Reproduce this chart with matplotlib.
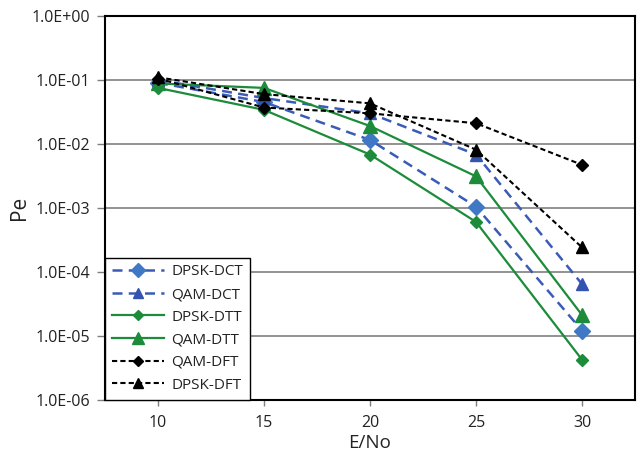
import matplotlib
matplotlib.use("Agg")
import matplotlib.pyplot as plt
from matplotlib.ticker import FixedLocator, FixedFormatter, NullLocator

# Signal-to-noise points and error probabilities per scheme
snr = [10, 15, 20, 25, 30]
dpsk_dct = [0.09, 0.045, 0.0115, 0.00104, 1.2e-5]
qam_dct = [0.1, 0.052, 0.030, 0.0068, 6.4e-5]
dpsk_dtt = [0.075, 0.034, 0.0068, 6.0e-4, 4.2e-6]
qam_dtt = [0.088, 0.075, 0.019, 0.0031, 2.1e-5]
qam_dft = [0.105, 0.037, 0.030, 0.021, 0.0047]
dpsk_dft = [0.11, 0.060, 0.043, 0.0081, 2.4e-4]

y_ticks = [1e0, 1e-1, 1e-2, 1e-3, 1e-4, 1e-5, 1e-6]
y_tick_labels = ["1.0E+00", "1.0E-01", "1.0E-02", "1.0E-03", "1.0E-04", "1.0E-05", "1.0E-06"]
x_ticks = [10, 15, 20, 25, 30]

plt.rcParams["font.family"] = ["Open Sans", "DejaVu Sans"]

fig = plt.figure(figsize=(6.39, 4.58), dpi=100)
ax = fig.add_axes([105 / 639, 1 - 399.5 / 458, 530 / 639, 383.5 / 458])

blue_line = "#3B5BB8"
blue_light = "#3F78C4"
blue_dark = "#3452B0"
green = "#1C8C3A"
black = "#000000"
text_col = "#222222"

ax.plot(snr, dpsk_dct, color=blue_line, lw=1.8, dashes=(4, 2.5),
        marker="D", ms=8.5, mfc=blue_light, mec=blue_light, label="DPSK-DCT", zorder=3)
ax.plot(snr, qam_dct, color=blue_line, lw=1.8, dashes=(4, 2.5),
        marker="^", ms=9, mfc=blue_dark, mec=blue_dark, label="QAM-DCT", zorder=3)
ax.plot(snr, dpsk_dtt, color=green, lw=1.6, ls="-",
        marker="D", ms=6.5, mfc=green, mec=green, label="DPSK-DTT", zorder=3)
ax.plot(snr, qam_dtt, color=green, lw=1.6, ls="-",
        marker="^", ms=10, mfc=green, mec=green, label="QAM-DTT", zorder=3)
ax.plot(snr, qam_dft, color=black, lw=1.5, dashes=(2.5, 1.5),
        marker="D", ms=6.5, mfc=black, mec=black, label="QAM-DFT", zorder=4)
ax.plot(snr, dpsk_dft, color=black, lw=1.5, dashes=(2.5, 1.5),
        marker="^", ms=8.5, mfc=black, mec=black, label="DPSK-DFT", zorder=4)

ax.set_yscale("log")
ax.set_ylim(1e-6, 1e0)
ax.set_xlim(7.5, 32.5)

ax.yaxis.set_major_locator(FixedLocator(y_ticks))
ax.yaxis.set_major_formatter(FixedFormatter(y_tick_labels))
ax.yaxis.set_minor_locator(NullLocator())
ax.set_xticks(x_ticks)
ax.set_xticklabels([str(v) for v in x_ticks])

ax.grid(axis="y", color="#7f7f7f", lw=1.2, zorder=0)
ax.set_axisbelow(True)

for s in ax.spines.values():
    s.set_color("black")
    s.set_linewidth(1.5)

ax.tick_params(axis="y", direction="out", length=6, width=1.0, color="#7f7f7f",
               labelsize=11.5, pad=5, labelcolor=text_col)
ax.tick_params(axis="x", direction="out", length=4, width=1.0, color="#7f7f7f",
               labelsize=11.5, pad=7, labelcolor=text_col)

ax.set_ylabel("Pe", fontsize=15, labelpad=1, color=text_col)
ax.set_xlabel("E/No", fontsize=13.5, labelpad=2, color=text_col)

leg = ax.legend(loc="lower left", bbox_to_anchor=(0, 0), borderaxespad=0,
                fontsize=11, frameon=True, fancybox=False, edgecolor="black",
                framealpha=1, handlelength=3.4, handletextpad=0.5,
                labelspacing=0.5, borderpad=0.45, markerscale=0.85)
leg.get_frame().set_linewidth(1.0)
for t in leg.get_texts():
    t.set_color(text_col)

fig.savefig("out.png", dpi=100)
